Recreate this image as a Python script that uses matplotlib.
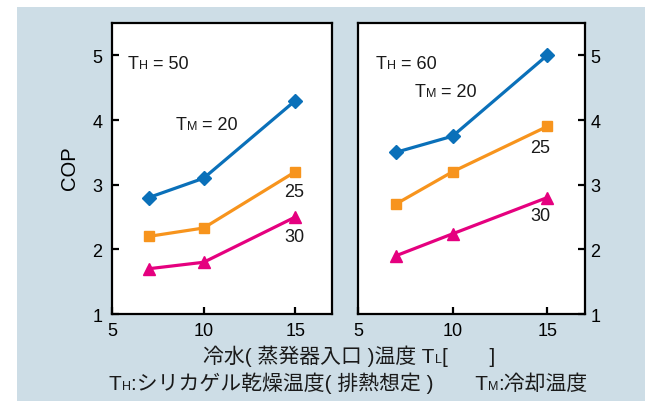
import matplotlib
matplotlib.use("Agg")
import matplotlib.pyplot as plt
from matplotlib.patches import Rectangle

# Evaporator inlet chilled-water temperature (deg C)
chilled_temp = [7, 10, 15]

# COP for T_H = 50
cop_50_tm20 = [2.8, 3.1, 4.3]
cop_50_tm25 = [2.2, 2.33, 3.2]
cop_50_tm30 = [1.7, 1.8, 2.5]

# COP for T_H = 60
cop_60_tm20 = [3.5, 3.75, 5.0]
cop_60_tm25 = [2.7, 3.2, 3.9]
cop_60_tm30 = [1.9, 2.24, 2.8]

x_ticks = [5, 10, 15]
y_ticks = [1, 2, 3, 4, 5]

BLUE = "#0a70b9"
ORANGE = "#f7941d"
MAGENTA = "#e5007f"
BG = "#cddde6"

LATIN = "Liberation Sans"
FAMILY = [LATIN, "Noto Sans CJK JP"]
plt.rcParams["font.family"] = FAMILY

W, H = 646, 402
fig = plt.figure(figsize=(W / 100, H / 100), dpi=100)
fig.patch.set_facecolor("white")
fig.patches.append(Rectangle((17 / W, 0), (645 - 17) / W, (H - 8) / H,
                             transform=fig.transFigure, facecolor=BG,
                             edgecolor="none", zorder=-10))

FS = 13
JFS = 15
SUB = 9.0


def fx(px):
    return px / W


def fy(py):
    return 1 - py / H


renderer = fig.canvas.get_renderer()


def rich_text(px, py, pieces, align="left"):
    """Draw a run of text pieces (text, size) sharing one baseline."""
    items = []
    for txt, size in pieces:
        t = fig.text(0, fy(py), txt, fontsize=size, family=FAMILY,
                     ha="left", va="baseline", color="#1a1a1a")
        w = t.get_window_extent(renderer).width
        items.append((t, w))
    total = sum(w for _, w in items)
    x = px - total / 2 if align == "center" else px
    for t, w in items:
        t.set_x(fx(x))
        x += w


def setup_axes(ax, right=False):
    ax.set_xlim(5, 17)
    ax.set_ylim(1, 5.5)
    ax.set_xticks(x_ticks)
    ax.set_yticks(y_ticks)
    for s in ax.spines.values():
        s.set_linewidth(1.6)
        s.set_color("black")
    ax.tick_params(axis="both", direction="in", length=5, width=1.6,
                   labelsize=FS, colors="black")
    ax.tick_params(axis="x", pad=6, top=False)
    if right:
        ax.yaxis.tick_right()
        ax.tick_params(axis="y", pad=4, left=False)
    else:
        ax.tick_params(axis="y", pad=7, right=False)
    for lab in ax.get_xticklabels() + ax.get_yticklabels():
        lab.set_family(LATIN)


ax1 = fig.add_axes([fx(112), fy(315), fx(332 - 112), (315 - 24) / H])
ax2 = fig.add_axes([fx(358), fy(315), fx(585 - 358), (315 - 24) / H])

lw = 2.3
for ax, s20, s25, s30 in [(ax1, cop_50_tm20, cop_50_tm25, cop_50_tm30),
                          (ax2, cop_60_tm20, cop_60_tm25, cop_60_tm30)]:
    ax.plot(chilled_temp, s20, color=BLUE, lw=lw, marker="D", ms=7.5)
    ax.plot(chilled_temp, s25, color=ORANGE, lw=lw, marker="s", ms=6.8)
    ax.plot(chilled_temp, s30, color=MAGENTA, lw=lw, marker="^", ms=8.5)
    setup_axes(ax, right=(ax is ax2))

# Panel annotations
rich_text(128, 69, [("T", FS), ("H", SUB), (" = 50", FS)])
rich_text(176, 130, [("T", FS), ("M", SUB), (" = 20", FS)])
rich_text(284, 197, [("25", FS)])
rich_text(284, 242, [("30", FS)])

rich_text(376, 69, [("T", FS), ("H", SUB), (" = 60", FS)])
rich_text(415, 97, [("T", FS), ("M", SUB), (" = 20", FS)])
rich_text(530, 153, [("25", FS)])
rich_text(530, 221, [("30", FS)])

# Axis titles
fig.text(fx(69), fy(168), "COP", rotation=90, fontsize=14.5, family=LATIN,
         ha="center", va="center")
rich_text(349, 363, [("冷水( 蒸発器入口 )温度 T", JFS), ("L", SUB),
                     ("[　　]", JFS)], align="center")
rich_text(348, 390, [("T", JFS), ("H", SUB),
                     (":シリカゲル乾燥温度( 排熱想定 )　　T", JFS),
                     ("M", SUB), (":冷却温度", JFS)], align="center")

fig.savefig("out.png", dpi=100, facecolor=fig.get_facecolor())
